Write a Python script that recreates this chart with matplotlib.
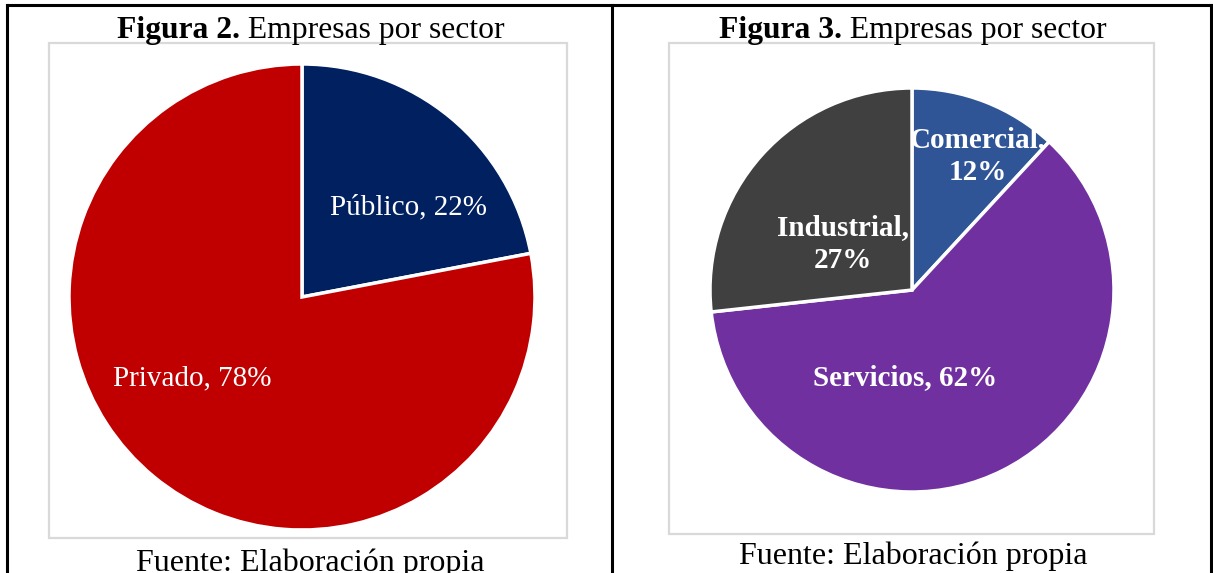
import matplotlib
matplotlib.use("Agg")
import matplotlib.pyplot as plt
from matplotlib.patches import Rectangle
from matplotlib.lines import Line2D

W, H = 1213, 573

# Data
left_labels = ["Público", "Privado"]
left_values = [22, 78]
left_colors = ["#002060", "#C00000"]

right_labels = ["Comercial", "Servicios", "Industrial"]
right_values = [12, 62, 27]
right_colors = ["#2F5597", "#7030A0", "#404040"]

plt.rcParams['font.family'] = ['Liberation Serif', 'DejaVu Serif']

fig = plt.figure(figsize=(W / 100, H / 100), dpi=100)
fig.patch.set_facecolor("white")


def px_axes(cx, cy, r):
    return fig.add_axes([(cx - r) / W, 1 - (cy + r) / H, 2 * r / W, 2 * r / H])


def fx(x):
    return x / W


def fy(y):
    return 1 - y / H


# table lines
for (x0, y0, x1, y1) in [(7, 5, 1211, 5), (7, 5, 7, 573), (612, 5, 612, 573), (1211, 5, 1211, 573)]:
    fig.add_artist(Line2D([fx(x0), fx(x1)], [fy(y0), fy(y1)], color="black", lw=2.2))

# chart frames
for (x0, y0, x1, y1) in [(49, 43, 567, 538), (669, 43, 1154, 534)]:
    fig.add_artist(Rectangle((fx(x0), fy(y1)), (x1 - x0) / W, (y1 - y0) / H,
                             transform=fig.transFigure, fill=False,
                             edgecolor="#D9D9D9", lw=1.6))

TITLE_FS = 22.8
FOOT_FS = 23
LAB_FS = 21

# titles with bold prefix
fig.canvas.draw()
renderer = fig.canvas.get_renderer()


def title(cx, cy, bold, rest):
    t1 = fig.text(0, 0, bold, fontsize=TITLE_FS, fontweight="bold")
    t2 = fig.text(0, 0, rest, fontsize=TITLE_FS)
    w1 = t1.get_window_extent(renderer).width
    w2 = t2.get_window_extent(renderer).width
    x0 = cx - (w1 + w2) / 2
    t1.set_position((fx(x0), fy(cy)))
    t2.set_position((fx(x0 + w1), fy(cy)))
    t1.set_va("center_baseline")
    t2.set_va("center_baseline")


title(311, 27, "Figura 2.", " Empresas por sector")
title(913, 27, "Figura 3.", " Empresas por sector")

fig.text(fx(310), fy(560), "Fuente: Elaboración propia", fontsize=FOOT_FS, ha="center", va="center_baseline")
fig.text(fx(913), fy(553), "Fuente: Elaboración propia", fontsize=FOOT_FS, ha="center", va="center_baseline")

# left pie
ax1 = px_axes(302, 297, 233)
ax1.pie(left_values, colors=left_colors, startangle=90, counterclock=False,
        wedgeprops=dict(edgecolor="white", linewidth=2.5), radius=1)
ax1.set_xlim(-1, 1)
ax1.set_ylim(-1, 1)
ax1.set_aspect("equal")
ax1.axis("off")
r = 233
ax1.text((408 - 302) / r, -(207 - 297) / r, f"{left_labels[0]}, {left_values[0]}%",
         color="white", fontsize=LAB_FS, ha="center", va="center")
ax1.text((192 - 302) / r, -(378 - 297) / r, f"{left_labels[1]}, {left_values[1]}%",
         color="white", fontsize=LAB_FS, ha="center", va="center")

# right pie
ax2 = px_axes(912, 290, 202)
ax2.pie(right_values, colors=right_colors, startangle=90, counterclock=False,
        wedgeprops=dict(edgecolor="white", linewidth=2.5), radius=1)
ax2.set_xlim(-1, 1)
ax2.set_ylim(-1, 1)
ax2.set_aspect("equal")
ax2.axis("off")
r2 = 202
pos = {"Comercial": (978, 156), "Servicios": (905, 378), "Industrial": (843, 244)}
texts = {"Comercial": "Comercial,\n12%", "Servicios": "Servicios, 62%", "Industrial": "Industrial,\n27%"}
for lab in right_labels:
    x, y = pos[lab]
    ax2.text((x - 912) / r2, -(y - 290) / r2, texts[lab], color="white",
             fontsize=LAB_FS, fontweight="bold", ha="center", va="center", linespacing=1.3)

fig.savefig("out.png", dpi=100)
